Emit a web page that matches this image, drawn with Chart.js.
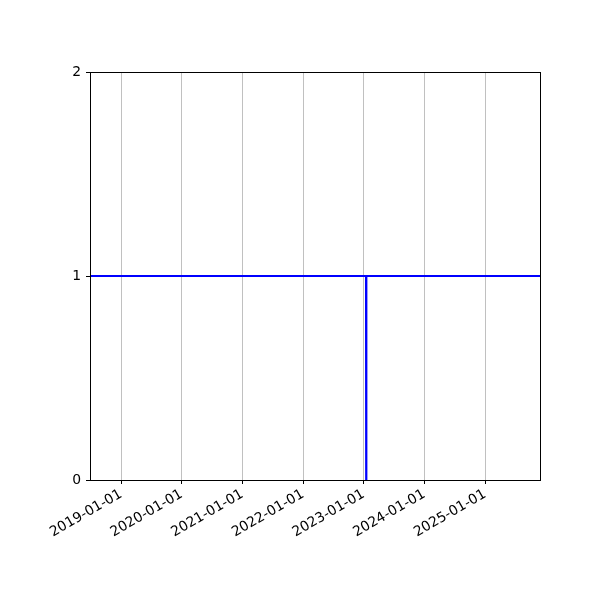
<!DOCTYPE html>
<html>
<head>
<meta charset="utf-8">
<script src="https://cdn.jsdelivr.net/npm/chart.js@4/dist/chart.umd.min.js"></script>
<style>
  html, body { margin: 0; padding: 0; background: #fff; }
  #wrap { width: 600px; height: 600px; }
</style>
</head>
<body>
<div id="wrap"><canvas id="c" width="600" height="600"></canvas></div>
<script>
// Data (dates as ISO strings)
const dates = ['2018-06-28', '2023-01-15', '2023-01-16', '2023-01-17', '2023-01-18', '2025-11-28'];
const values = [1, 1, 0, 0, 1, 1];
const xTickDates = ['2019-01-01', '2020-01-01', '2021-01-01', '2022-01-01', '2023-01-01', '2024-01-01', '2025-01-01'];
const yTicks = [0, 1, 2];
const xRange = ['2018-06-28', '2025-11-28'];

const toMs = s => Date.parse(s + 'T00:00:00Z');
const pad2 = n => String(n).padStart(2, '0');
const fmt = ms => { const d = new Date(ms); return d.getUTCFullYear() + '-' + pad2(d.getUTCMonth() + 1) + '-' + pad2(d.getUTCDate()); };

const points = dates.map((d, i) => ({ x: toMs(d), y: values[i] }));
const FONT = { family: 'DejaVu Sans', size: 13.9 };

const frame = {
  id: 'frame',
  afterDatasetsDraw(chart) {
    const a = chart.chartArea, ctx = chart.ctx;
    ctx.save();
    ctx.strokeStyle = '#000';
    ctx.lineWidth = 1;
    ctx.strokeRect(Math.round(a.left) + 0.5, Math.round(a.top) + 0.5, Math.round(a.right - a.left), Math.round(a.bottom - a.top));
    ctx.restore();
  }
};

new Chart(document.getElementById('c'), {
  type: 'line',
  data: { datasets: [{ data: points, borderColor: '#0000ff', borderWidth: 2, pointRadius: 0, tension: 0, fill: false }] },
  options: {
    responsive: false, animation: false, devicePixelRatio: 1,
    layout: { padding: { top: 72, right: 60, left: 0, bottom: 0 } },
    plugins: { legend: { display: false }, tooltip: { enabled: false } },
    scales: {
      x: {
        type: 'linear', min: toMs(xRange[0]), max: toMs(xRange[1]),
        afterBuildTicks: s => { s.ticks = xTickDates.map(d => ({ value: toMs(d) })); },
        afterFit: s => { s.height = 120; },
        ticks: { autoSkip: false, minRotation: 30, maxRotation: 30, padding: 2, color: '#000', font: FONT, callback: v => fmt(v) },
        grid: { color: '#b0b0b0', lineWidth: 0.8, tickColor: '#000', tickLength: 4, tickWidth: 1 },
        border: { display: true, color: '#000' }
      },
      y: {
        min: 0, max: 2,
        afterBuildTicks: s => { s.ticks = yTicks.map(v => ({ value: v })); },
        afterFit: s => { s.width = 90; },
        ticks: { padding: 5, color: '#000', font: FONT },
        grid: { drawOnChartArea: false, tickColor: '#000', tickLength: 4, tickWidth: 1 },
        border: { display: true, color: '#000' }
      }
    }
  },
  plugins: [frame]
});
</script>
</body>
</html>
